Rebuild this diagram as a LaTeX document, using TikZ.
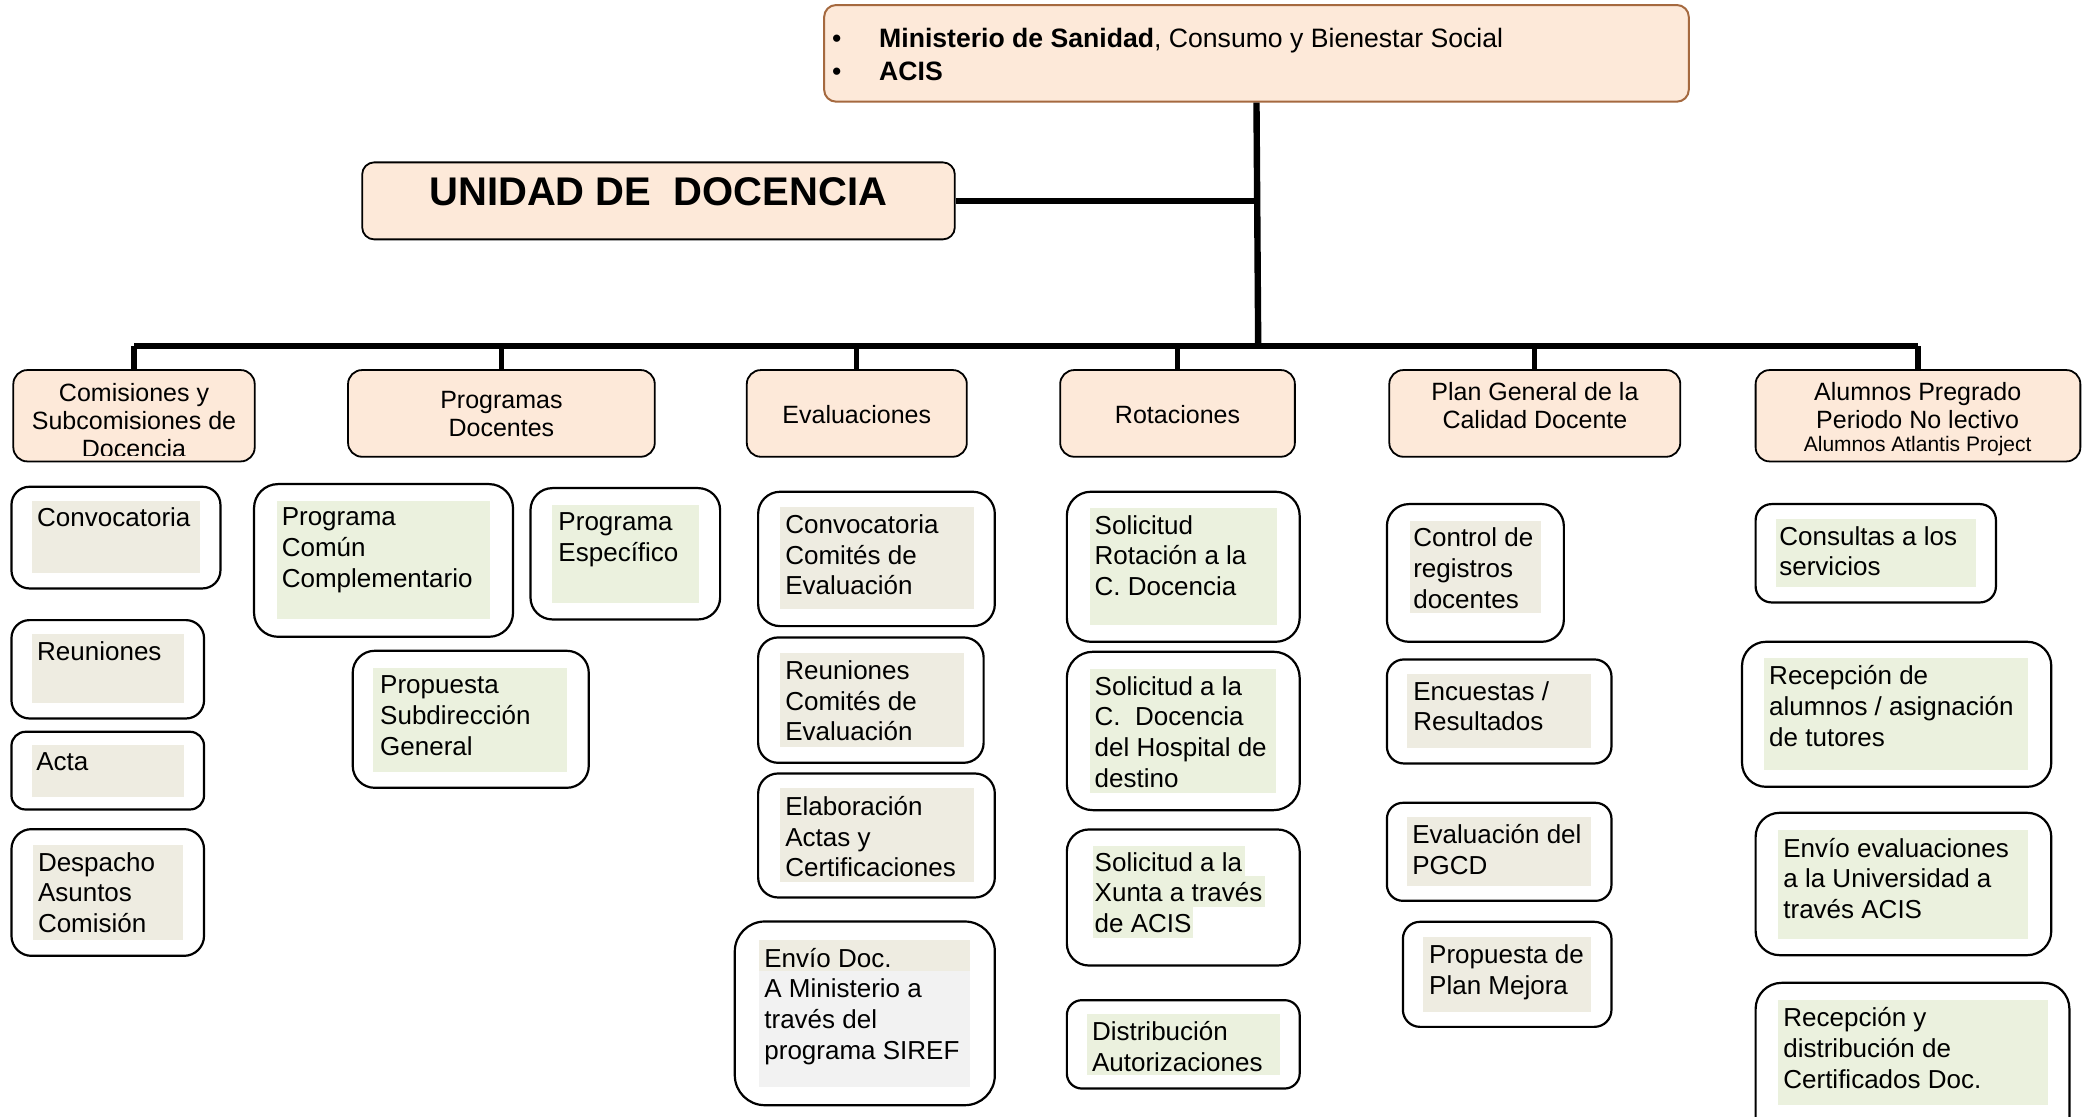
\documentclass[tikz,border=0pt]{standalone}
\usepackage{fontspec}
\setmainfont{Liberation Sans}
\usetikzlibrary{fit}

\definecolor{peach}{HTML}{FDE9D9}
\definecolor{brownbd}{HTML}{A5693F}
\definecolor{tanbg}{HTML}{EEECE1}
\definecolor{greenbg}{HTML}{EBF1DE}
\definecolor{greybg}{HTML}{F2F2F2}

\tikzset{
  topbox/.style={draw=brownbd, line width=1pt, fill=peach, rounded corners=6pt, inner sep=0pt},
  unibox/.style={draw=black, line width=0.9pt, fill=peach, rounded corners=6pt, inner sep=0pt},
  hdr/.style={draw=black, line width=0.9pt, fill=peach, rounded corners=7pt, inner sep=0pt},
  hdrtxt/.style={font=\fontsize{12.5}{14}\selectfont, align=center, inner sep=0pt},
  item/.style={draw=black, line width=1.1pt, fill=white, rounded corners=#1, inner sep=0pt},
  item/.default=9pt,
  itemtxt/.style={font=\fontsize{13}{15.4}\selectfont, align=left, anchor=north west, inner sep=0pt},
  toptxt/.style={font=\fontsize{13.3}{16}\selectfont, inner sep=0pt},
  trunk/.style={line width=3.2pt},
  bus/.style={line width=3pt},
  drop/.style={line width=2.6pt},
}

\begin{document}
\begin{tikzpicture}[x=0.6667pt, y=-0.6667pt]
\useasboundingbox (0,0) rectangle (1568,837);
\clip (0,0) rectangle (1568,837);

% top
\node[topbox, fit={(618,3.75) (1266.4,76.25)}] (minis) {};
\node[toptxt, anchor=base] (bul1) at (627.5,35.5) {•};
\node[toptxt, anchor=base] (bul2) at (627.5,60.5) {•};
\node[toptxt, anchor=base west] (minisT) at (659,35.5) {\textbf{Ministerio de Sanidad}, Consumo y Bienestar Social};
\node[toptxt, anchor=base west] (acisT) at (659,60.5) {\textbf{ACIS}};

\node[unibox, fit={(271.6,121.75) (716,179.5)}] (uni) {};
\node[font=\fontsize{20}{24}\selectfont\bfseries, inner sep=0pt] (uniT) at (493.6,144) {UNIDAD DE\ \ DOCENCIA};

% headers
\node[hdr, fit={(10,277.5) (191,346)}] (comis) {};
\begin{scope}
\clip (11,279) rectangle (190,341.5);
\node[hdrtxt] (comisT) at (100.5,315) {Comisiones y\\Subcomisiones de\\Docencia};
\end{scope}
\node[hdr, fit={(261,277.5) (491,342.5)}] (progs) {};
\node[hdrtxt] (progsT) at (376,310.5) {Programas\\Docentes};
\node[hdr, fit={(560,277.5) (725,342.5)}] (evals) {};
\node[hdrtxt] (evalsT) at (642.5,310.5) {Evaluaciones};
\node[hdr, fit={(795,277.5) (971,342.5)}] (rots) {};
\node[hdrtxt] (rotsT) at (883,310.5) {Rotaciones};
\node[hdr, fit={(1041.8,277.5) (1260,342.5)}] (pgcd) {};
\node[hdrtxt] (pgcdT) at (1151,304.4) {Plan General de la\\Calidad Docente};
\node[hdr, fit={(1316.5,277.5) (1560,346)}] (alum) {};
\node[hdrtxt] (alumT) at (1438,304.4) {Alumnos Pregrado\\Periodo No lectivo};
\node[hdrtxt, font=\fontsize{10.5}{12}\selectfont] (alumT2) at (1438,334.5) {Alumnos Atlantis Project};

% connectors
\coordinate (jn) at (943.5,259.5);
\draw[trunk] (minis.south) -- (jn);
\draw[trunk] (uni.east) -- (uni.east -| jn);
\draw[bus] (comis.north |- jn) -- (alum.north |- jn);
\foreach \h in {comis,progs,evals,rots,pgcd,alum}
  \draw[drop] (\h.north) -- (\h.north |- jn);

% comisiones
\node[item, fit={(8.6,365) (165.3,441.25)}] (conv) {};
\fill[tanbg] (24,375.75) rectangle (150,430);
\node[itemtxt] (convT) at (27.6,380.5) {Convocatoria};
\node[item, fit={(8.6,465) (153,538.75)}] (reun) {};
\fill[tanbg] (24,475.5) rectangle (138,527.5);
\node[itemtxt] (reunT) at (27.6,480.5) {Reuniones};
\node[item=7pt, fit={(8.6,548.75) (153,607)}] (acta) {};
\fill[tanbg] (24,558.75) rectangle (138,597.5);
\node[itemtxt] (actaT) at (26.9,564.25) {Acta};
\node[item=10pt, fit={(8.6,621.75) (153,716.75)}] (desp) {};
\fill[tanbg] (24.8,633.75) rectangle (137,705);
\node[itemtxt] (despT) at (28.2,638.75) {Despacho\\Asuntos\\Comisión};

% programas
\node[item=12pt, fit={(190.5,363) (384.7,477.5)}] (pcom) {};
\fill[greenbg] (207.7,375.75) rectangle (367.8,464.5);
\node[itemtxt] (pcomT) at (211,380.5) {Programa\\Común\\Complementario};
\node[item=11pt, fit={(397.8,366) (540,464.5)}] (pesp) {};
\fill[greenbg] (414,378.75) rectangle (524.5,452);
\node[itemtxt] (pespT) at (418.5,384.25) {Programa\\Específico};
\node[item=11pt, fit={(264.5,488) (441.5,590.75)}] (psub) {};
\fill[greenbg] (280,500.75) rectangle (425,578.75);
\node[itemtxt] (psubT) at (284.8,506.25) {Propuesta\\Subdirección\\General};

% evaluaciones
\node[item=11pt, fit={(568.5,368.75) (746,469.5)}] (ecom) {};
\fill[tanbg] (584.6,380) rectangle (730,456.5);
\node[itemtxt] (ecomT) at (588.6,385.5) {Convocatoria\\Comités de\\Evaluación};
\node[item=10pt, fit={(568.5,478) (737.6,572)}] (ereu) {};
\fill[tanbg] (584.6,490) rectangle (722.5,560);
\node[itemtxt] (ereuT) at (588.6,495) {Reuniones\\Comités de\\Evaluación};
\node[item=10pt, fit={(568.5,580) (746,673)}] (elab) {};
\fill[tanbg] (584.6,591.25) rectangle (730,661.25);
\node[itemtxt] (elabT) at (588.6,596.75) {Elaboración\\Actas y\\Certificaciones};
\node[item=15pt, fit={(551,691) (746,828.75)}] (envd) {};
\fill[tanbg] (569,705) rectangle (727.5,728.25);
\fill[greybg] (569,728.25) rectangle (727.5,815);
\node[itemtxt] (envdT) at (572.9,710.5) {Envío Doc.\\A Ministerio a\\través del\\programa SIREF};

% rotaciones
\node[item=12pt, fit={(800,368.75) (974.6,481.25)}] (srot) {};
\fill[greenbg] (817,381) rectangle (957.5,468.75);
\node[itemtxt] (srotT) at (820.6,386) {Solicitud\\Rotación a la\\C. Docencia};
\node[item=13pt, fit={(800,488.75) (974.6,607.5)}] (shos) {};
\fill[greenbg] (817,501.75) rectangle (957,594.5);
\node[itemtxt] (shosT) at (820.6,506.75) {Solicitud a la\\C.\ \ Docencia\\del Hospital de\\destino};
\node[item=11pt, fit={(800,622) (974.6,724)}] (sxun) {};
\fill[greenbg] (819.6,634.5) rectangle (933.5,657);
\fill[greenbg] (819.6,657) rectangle (948.5,680);
\fill[greenbg] (819.6,680) rectangle (894.3,703);
\node[itemtxt] (sxunT) at (820.6,638.75) {Solicitud a la\\Xunta a través\\de ACIS};
\node[item=7.5pt, fit={(800,750) (974.6,816.25)}] (dist) {};
\fill[greenbg] (815,760.5) rectangle (959.6,806.25);
\node[itemtxt] (distT) at (818.6,765.5) {Distribución\\Autorizaciones};

% plan general
\node[item=11pt, fit={(1040,378) (1172.7,481.25)}] (ctrl) {};
\fill[tanbg] (1057,390.75) rectangle (1155.7,459.5);
\node[itemtxt] (ctrlT) at (1059.5,395.5) {Control de\\registros\\docentes};
\node[item=8.5pt, fit={(1040,494.5) (1208.4,572.5)}] (encu) {};
\fill[tanbg] (1055.4,505.5) rectangle (1193,561.25);
\node[itemtxt] (encuT) at (1059.5,510.5) {Encuestas /\\Resultados};
\node[item=8pt, fit={(1040,602) (1208.4,675.5)}] (epg) {};
\fill[tanbg] (1055.4,612.5) rectangle (1193,664.5);
\node[itemtxt] (epgT) at (1058.8,618) {Evaluación del\\PGCD};
\node[item=8.5pt, fit={(1052,691.25) (1208.4,770)}] (pmej) {};
\fill[tanbg] (1067.3,702.5) rectangle (1193,758.75);
\node[itemtxt] (pmejT) at (1071.4,708) {Propuesta de\\Plan Mejora};

% alumnos
\node[item=8pt, fit={(1316.5,378) (1496.7,451.75)}] (cons) {};
\fill[greenbg] (1331.8,389.25) rectangle (1481.4,440.5);
\node[itemtxt] (consT) at (1334,394.25) {Consultas a los\\servicios};
\node[item=12pt, fit={(1306.3,481.25) (1538.2,590)}] (recal) {};
\fill[greenbg] (1323,493.75) rectangle (1521,577.5);
\node[itemtxt] (recalT) at (1326.4,498.75) {Recepción de\\alumnos / asignación\\de tutores};
\node[item=12pt, fit={(1316.5,609.5) (1538.2,716.25)}] (envu) {};
\fill[greenbg] (1333.5,622.5) rectangle (1521,703.75);
\node[itemtxt] (envuT) at (1337,628) {Envío evaluaciones\\a la Universidad a\\través ACIS};
\node[item=13pt, fit={(1316.5,737) (1551.8,870)}] (rcert) {};
\fill[greenbg] (1333.5,750) rectangle (1535.5,828.75);
\node[itemtxt] (rcertT) at (1337,755) {Recepción y\\distribución de\\Certificados Doc.};
\end{tikzpicture}
\end{document}
